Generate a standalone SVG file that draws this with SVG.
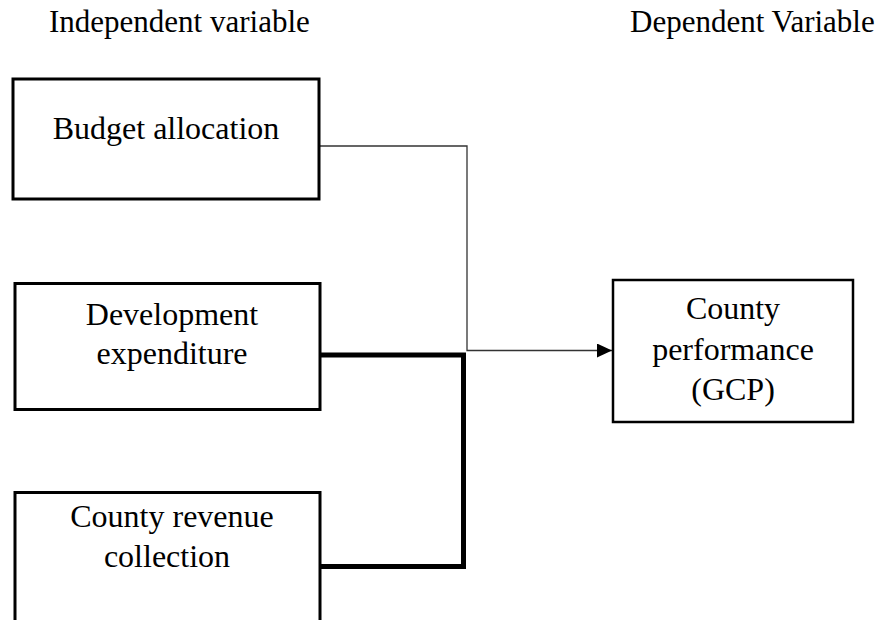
<svg xmlns="http://www.w3.org/2000/svg" width="889" height="620" viewBox="0 0 889 620">
<defs>
<style>
text{font-family:"Liberation Serif","Times New Roman",serif;font-size:32px;fill:#000}
.h{font-size:31px}
.box{fill:#fff;stroke:#000;stroke-width:3}
.thin{fill:none;stroke:#333;stroke-width:1.3}
.thick{fill:none;stroke:#000;stroke-width:5}
.c{text-anchor:middle}
</style>
<marker id="arr" markerWidth="15" markerHeight="14" refX="15" refY="7" orient="auto" markerUnits="userSpaceOnUse">
<path d="M0,0 L15,7 L0,14 Z" fill="#000"/>
</marker>
</defs>
<rect width="889" height="620" fill="#fff"/>
<g id="headers">
<text class="h" x="49" y="32">Independent variable</text>
<text class="h" x="630" y="32">Dependent Variable</text>
</g>
<g id="connectors">
<polyline class="thin" points="320,146 467,146 467,350.5 612,350.5" marker-end="url(#arr)"/>
<polyline class="thick" points="321,355 463.5,355 463.5,566.5 321,566.5"/>
</g>
<g id="budget">
<rect class="box" x="13" y="79" width="306" height="120"/>
<text class="c" x="166" y="139">Budget allocation</text>
</g>
<g id="development">
<rect class="box" x="15" y="283.5" width="305" height="126"/>
<text class="c" x="172" y="325">Development</text>
<text class="c" x="172" y="364">expenditure</text>
</g>
<g id="revenue">
<rect class="box" x="15" y="492.5" width="305" height="160"/>
<text class="c" x="172" y="527">County revenue</text>
<text class="c" x="167" y="567">collection</text>
</g>
<g id="gcp">
<rect class="box" x="613" y="280" width="240" height="142" style="stroke-width:2.5"/>
<text class="c" x="733" y="319">County</text>
<text class="c" x="733" y="360">performance</text>
<text class="c" x="733" y="400">(GCP)</text>
</g>
</svg>
